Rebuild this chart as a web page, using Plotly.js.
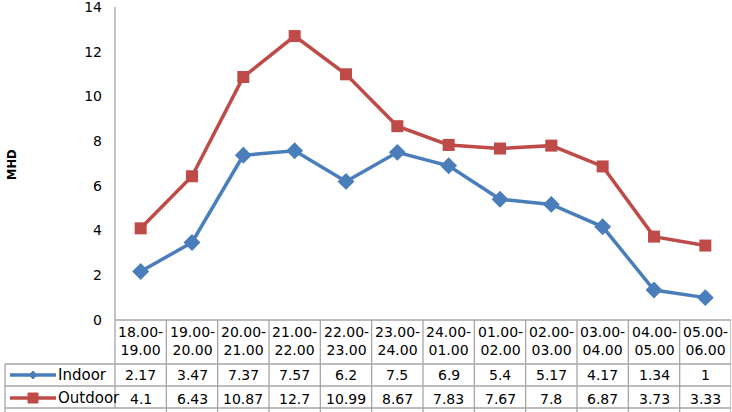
<!DOCTYPE html>
<html><head><meta charset="utf-8">
<script src="https://cdn.plot.ly/plotly-3.0.1.min.js"></script>
<style>html,body{margin:0;padding:0;background:#fff}#chart{width:732px;height:412px}</style>
</head><body><div id="chart"></div>
<script>
const categories = ["18.00-19.00","19.00-20.00","20.00-21.00","21.00-22.00","22.00-23.00","23.00-24.00","24.00-01.00","01.00-02.00","02.00-03.00","03.00-04.00","04.00-05.00","05.00-06.00"];
const indoor = [2.17,3.47,7.37,7.57,6.2,7.5,6.9,5.4,5.17,4.17,1.34,1];
const outdoor = [4.1,6.43,10.87,12.7,10.99,8.67,7.83,7.67,7.8,6.87,3.73,3.33];
const indoorLabels = ["2.17","3.47","7.37","7.57","6.2","7.5","6.9","5.4","5.17","4.17","1.34","1"];
const outdoorLabels = ["4.1","6.43","10.87","12.7","10.99","8.67","7.83","7.67","7.8","6.87","3.73","3.33"];
const seriesNames = ["Indoor","Outdoor"];
const yTicks = [0,2,4,6,8,10,12,14];

const W = 732, H = 412, L = 115, R = 1, T = 7, B = 92;
const pw = W - L - R, ph = H - T - B;
const py = p => (H - B - p) / ph;      // pixel y -> paper y
const pxp = p => (p - L) / pw;         // pixel x -> paper x

const blue = "#4A7EBB", red = "#BE4B48", grid = "#A6A6A6";
const font = "DejaVu Sans";
const xIdx = categories.map((c, i) => i);

const traces = [
  {x: xIdx, y: indoor, name: seriesNames[0], mode: "lines+markers", type: "scatter",
   line: {color: blue, width: 3.5}, marker: {symbol: "diamond", size: 13, color: blue}},
  {x: xIdx, y: outdoor, name: seriesNames[1], mode: "lines+markers", type: "scatter",
   line: {color: red, width: 3.5}, marker: {symbol: "square", size: 12, color: red}}
];

const shapes = [];
const annotations = [];
shapes.push({type: "line", xref: "paper", yref: "paper", x0: 0, x1: 0, y0: 1, y1: py(408), line: {color: grid, width: 1.3}});
shapes.push({type: "line", xref: "paper", yref: "paper", x0: 0, x1: 1, y0: 0, y1: 0, line: {color: grid, width: 1.3}});
[364, 386, 408].forEach(p => shapes.push({type: "line", xref: "paper", yref: "paper", x0: pxp(5), x1: 1, y0: py(p), y1: py(p), line: {color: grid, width: 1.3}}));
shapes.push({type: "line", xref: "paper", yref: "paper", x0: pxp(5), x1: pxp(5), y0: py(364), y1: py(412), line: {color: grid, width: 1.3}});
for (let i = 1; i <= categories.length; i++) {
  shapes.push({type: "line", xref: "x", yref: "paper", x0: i - 0.5, x1: i - 0.5, y0: 0, y1: py(412), line: {color: grid, width: 1.3}});
}
const tf = {family: font, size: 14, color: "#000"};
categories.forEach((c, i) => {
  const parts = c.split("-");
  annotations.push({xref: "x", yref: "paper", x: i, y: py(341), xanchor: "center", yanchor: "middle", text: parts[0] + "-<br>" + parts[1], showarrow: false, font: tf, align: "center"});
  annotations.push({xref: "x", yref: "paper", x: i, y: py(375), xanchor: "center", yanchor: "middle", text: indoorLabels[i], showarrow: false, font: tf});
  annotations.push({xref: "x", yref: "paper", x: i, y: py(399), xanchor: "center", yanchor: "middle", text: outdoorLabels[i], showarrow: false, font: tf});
});
const keyRows = [{y: 375, color: blue, sym: "diamond"}, {y: 398, color: red, sym: "square"}];
keyRows.forEach((k, j) => {
  shapes.push({type: "line", xref: "paper", yref: "paper", x0: pxp(10), x1: pxp(56), y0: py(k.y), y1: py(k.y), line: {color: k.color, width: 3.5}});
  const cx = 33;
  if (k.sym === "diamond") {
    shapes.push({type: "path", xref: "paper", yref: "paper",
      path: `M ${pxp(cx-4)} ${py(k.y)} L ${pxp(cx)} ${py(k.y-4)} L ${pxp(cx+4)} ${py(k.y)} L ${pxp(cx)} ${py(k.y+4)} Z`,
      fillcolor: k.color, line: {color: k.color, width: 1}});
  } else {
    shapes.push({type: "rect", xref: "paper", yref: "paper", x0: pxp(cx-5), x1: pxp(cx+5), y0: py(k.y-5), y1: py(k.y+5), fillcolor: k.color, line: {color: k.color, width: 1}});
  }
  annotations.push({xref: "paper", yref: "paper", x: pxp(56), y: py(k.y), xanchor: "left", yanchor: "middle", text: seriesNames[j], showarrow: false, font: {family: font, size: 15, color: "#000"}});
});
annotations.push({xref: "paper", yref: "paper", x: pxp(12), y: py(165), xanchor: "center", yanchor: "middle", text: "<b>MHD</b>", textangle: -90, showarrow: false, font: {family: font, size: 11.5, color: "#000"}});

const layout = {
  width: W, height: H, margin: {l: L, r: R, t: T, b: B, pad: 0},
  paper_bgcolor: "#fff", plot_bgcolor: "#fff", showlegend: false,
  xaxis: {range: [-0.5, 11.5], showticklabels: false, showgrid: false, zeroline: false, showline: false, ticks: "", fixedrange: true},
  yaxis: {range: [0, 14.001], tickvals: yTicks, ticktext: yTicks.map(String), showgrid: false, zeroline: false, showline: false, ticks: "",
          ticklabeloverflow: "allow", ticklabelstandoff: 12, tickfont: {family: font, size: 14, color: "#000"}},
  shapes: shapes, annotations: annotations
};
Plotly.newPlot("chart", traces, layout, {displayModeBar: false, staticPlot: true});
</script></body></html>
